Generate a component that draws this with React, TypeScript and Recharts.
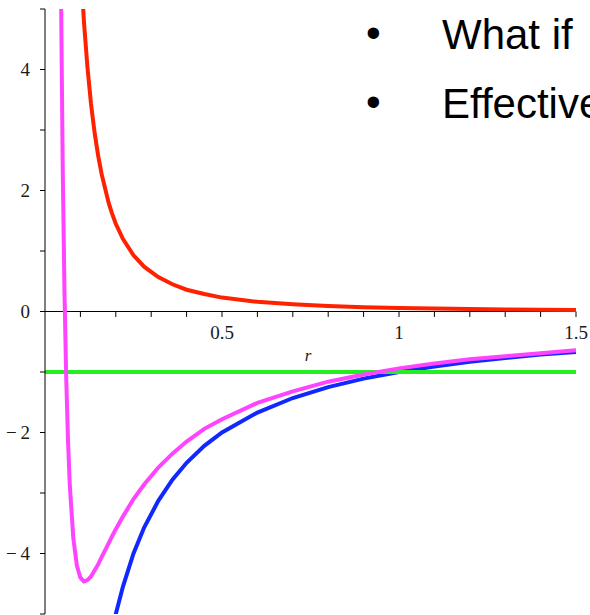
import { LineChart, Line, XAxis, YAxis, ReferenceLine, ReferenceDot } from 'recharts';

// radius samples (denser near the origin where the curves blow up)
const radius = [0, 0.04, 0.045, 0.05, 0.055, 0.06, 0.065, 0.07, 0.08, 0.09, 0.1, 0.11, 0.12, 0.13, 0.14, 0.15, 0.16, 0.18, 0.19, 0.2, 0.22, 0.25, 0.28, 0.32, 0.36, 0.4, 0.45, 0.5, 0.6, 0.7, 0.8, 0.9, 1.0, 1.1, 1.2, 1.3, 1.4, 1.5];

// centrifugal term (red)
const centrifugal = [null, null, null, null, null, null, null, null, 9.06, 7.16, 5.8, 4.79, 4.03, 3.43, 2.96, 2.58, 2.27, 1.79, 1.61, 1.45, 1.2, 0.93, 0.74, 0.57, 0.45, 0.36, 0.29, 0.23, 0.16, 0.12, 0.091, 0.072, 0.058, 0.048, 0.04, 0.034, 0.03, 0.026];
// gravitational term (blue)
const gravity = [null, null, null, null, null, null, null, null, null, null, null, null, null, null, null, null, null, -5.56, -5.26, -5.0, -4.55, -4.0, -3.57, -3.13, -2.78, -2.5, -2.22, -2.0, -1.67, -1.43, -1.25, -1.11, -1.0, -0.91, -0.83, -0.77, -0.71, -0.67];
// effective potential (magenta)
const effective = [null, 10, 5.43, 2.4, 0.33, -1.11, -2.13, -2.86, -3.75, -4.2, -4.4, -4.46, -4.44, -4.38, -4.28, -4.18, -4.06, -3.83, -3.71, -3.6, -3.39, -3.1, -2.86, -2.58, -2.35, -2.15, -1.94, -1.78, -1.51, -1.32, -1.16, -1.04, -0.94, -0.86, -0.79, -0.74, -0.69, -0.64];
// energy level (green)
const energy = radius.map(() => -1);

const yTicks = [-5, -4, -3, -2, -1, 0, 1, 2, 3, 4, 5];
const xTicks = [0.1, 0.2, 0.3, 0.4, 0.5, 0.6, 0.7, 0.8, 0.9, 1.0, 1.1, 1.2, 1.3, 1.4, 1.5];
const xLabels = [0.5, 1, 1.5];

const data = radius.map((r, i) => ({
  r,
  centrifugal: centrifugal[i],
  gravity: gravity[i],
  effective: effective[i],
  energy: energy[i],
}));

const serif = '"Liberation Serif", "DejaVu Serif", serif';

const fmtY = (v: number) => {
  if (v % 2 !== 0) return '';
  return v < 0 ? `\u2212\u2009${-v}` : `${v}`;
};

export default function App() {
  return (
    <div style={{ position: 'absolute', left: 0, top: 0, width: 590, height: 615, overflow: 'hidden', background: '#fff' }}>
      <LineChart width={590} height={615} data={data} margin={{ top: 9, right: 14, bottom: 1, left: 0 }}>
        <XAxis dataKey="r" type="number" domain={[0, 1.5]} hide />
        <YAxis
          type="number"
          domain={[-5, 5]}
          ticks={yTicks}
          allowDataOverflow
          width={45}
          tickFormatter={fmtY}
          tickSize={5}
          tickMargin={10}
          stroke="#000"
          tick={{ fontFamily: serif, fontSize: 19, fill: '#1a1a1a' }}
        />
        <ReferenceLine y={0} stroke="#000" strokeWidth={1} />
        {xTicks.map(t => (
          <ReferenceLine key={t} segment={[{ x: t, y: 0 }, { x: t, y: -0.09 }]} stroke="#000" strokeWidth={1} />
        ))}
        {xLabels.map(t => (
          <ReferenceDot
            key={t}
            x={t}
            y={0}
            r={0}
            fill="none"
            stroke="none"
            label={{ value: `${t}`, position: 'bottom', offset: 14, fontFamily: serif, fontSize: 19, fill: '#1a1a1a' }}
          />
        ))}
        <ReferenceDot
          x={0.743}
          y={-0.72}
          r={0}
          fill="none"
          stroke="none"
          label={{ value: 'r', position: 'center', fontFamily: serif, fontStyle: 'italic', fontSize: 17, fill: '#1a1a1a' }}
        />
        <Line dataKey="centrifugal" stroke="#ff2200" strokeWidth={4} dot={false} type="linear" isAnimationActive={false} />
        <Line dataKey="gravity" stroke="#1028ff" strokeWidth={4} dot={false} type="linear" isAnimationActive={false} />
        <Line dataKey="energy" stroke="#22ee22" strokeWidth={4} dot={false} type="linear" isAnimationActive={false} />
        <Line dataKey="effective" stroke="#ff44ff" strokeWidth={4} dot={false} type="linear" isAnimationActive={false} />
      </LineChart>
      <div style={{ position: 'absolute', left: 0, top: 0, fontFamily: '"Liberation Sans", Arial, sans-serif', fontSize: 42, color: '#000', whiteSpace: 'nowrap' }}>
        <div style={{ position: 'absolute', left: 366, top: 9, lineHeight: '48px' }}>•</div>
        <div style={{ position: 'absolute', left: 442, top: 11, lineHeight: '48px' }}>What if</div>
        <div style={{ position: 'absolute', left: 366, top: 78, lineHeight: '48px' }}>•</div>
        <div style={{ position: 'absolute', left: 442, top: 80, lineHeight: '48px' }}>Effective</div>
      </div>
    </div>
  );
}
